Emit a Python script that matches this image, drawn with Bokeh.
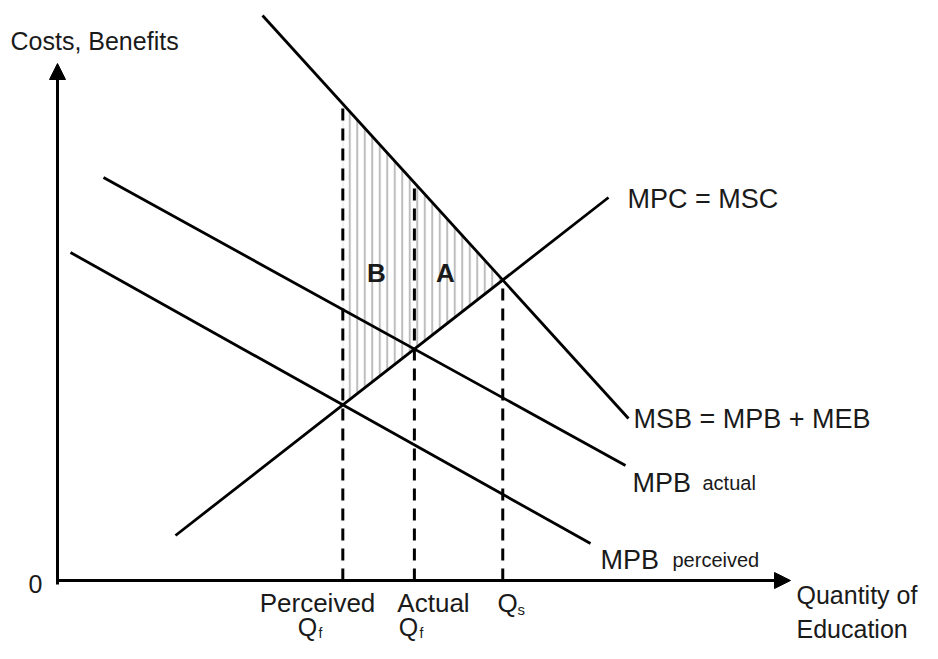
from bokeh.plotting import figure
from bokeh.models import Range1d, Arrow, NormalHead
from bokeh.core.properties import value
from bokeh.embed import file_html
from bokeh.resources import INLINE

# ---- data: curve endpoints (quantity, costs/benefits units) ----
msb_q = [205, 571]
msb_p = [565, 162]
mpc_q = [118, 551]
mpc_p = [45, 383]
mpb_act_q = [46, 568]
mpb_act_p = [403, 115]
mpb_per_q = [13, 533]
mpb_per_p = [328, 37]
axis_len_q = 733
axis_len_p = 517


def line_at(q, p, x):
    s = (p[1] - p[0]) / (q[1] - q[0])
    return p[0] + s * (x - q[0])


def intersect(q1, p1, q2, p2):
    s1 = (p1[1] - p1[0]) / (q1[1] - q1[0])
    s2 = (p2[1] - p2[0]) / (q2[1] - q2[0])
    b1 = p1[0] - s1 * q1[0]
    b2 = p2[0] - s2 * q2[0]
    x = (b2 - b1) / (s1 - s2)
    return x, b1 + s1 * x


q_per, p_per = intersect(mpb_per_q, mpb_per_p, mpc_q, mpc_p)
q_act, p_act = intersect(mpb_act_q, mpb_act_p, mpc_q, mpc_p)
q_s, p_s = intersect(msb_q, msb_p, mpc_q, mpc_p)

FONT = value("Liberation Sans")
INK = "#1a1a1a"

p = figure(width=922, height=643, x_range=Range1d(-57, 865), y_range=Range1d(-63, 580),
           output_backend="svg", toolbar_location=None, min_border=0,
           x_axis_type=None, y_axis_type=None)
p.grid.visible = False
p.outline_line_color = None
p.background_fill_color = "white"

# hatched welfare area
p.patch([q_per, q_s, q_per],
        [line_at(msb_q, msb_p, q_per), p_s, line_at(mpc_q, mpc_p, q_per)],
        fill_color="white", fill_alpha=0, line_color=None,
        hatch_pattern="vertical_line", hatch_color="#bdbdbd",
        hatch_scale=7.5, hatch_weight=2)

# dashed verticals
for qq, top in [(q_per, line_at(msb_q, msb_p, q_per)),
                (q_act, line_at(msb_q, msb_p, q_act)),
                (q_s, p_s)]:
    p.line([qq, qq], [0, top], line_color="black", line_width=3, line_dash="12 8")

# curves
for qs, ps in [(msb_q, msb_p), (mpc_q, mpc_p), (mpb_act_q, mpb_act_p), (mpb_per_q, mpb_per_p)]:
    p.line(qs, ps, line_color="black", line_width=2.8)

# axes
p.add_layout(Arrow(end=NormalHead(size=16, fill_color="black", line_color="black"),
                   x_start=0, y_start=-4, x_end=0, y_end=axis_len_p,
                   line_width=3, line_color="black"))
p.add_layout(Arrow(end=NormalHead(size=16, fill_color="black", line_color="black"),
                   x_start=0, y_start=0, x_end=axis_len_q, y_end=0,
                   line_width=3, line_color="black"))


def txt(x, y, s, size, align="left", baseline="middle", style="normal"):
    p.text(x=[x], y=[y], text=[s], text_font=FONT, text_font_size=f"{size}px",
           text_align=align, text_baseline=baseline, text_color=INK,
           text_font_style=style)


txt(-47, 540, "Costs, Benefits", 25)
txt(-22, -3, "0", 25, align="center")
txt(739, -14, "Quantity of", 25)
txt(739, -48, "Education", 25)
txt(260, -22, "Perceived", 26, align="center")
txt(376, -22, "Actual", 26, align="center")
txt(440, -22, "Q", 26)
txt(460, -29, "s", 15)
txt(250, -46, "Q", 25, align="center")
txt(261, -52, "f", 14)
txt(351, -46, "Q", 25, align="center")
txt(362, -52, "f", 14)
txt(570, 382, "MPC = MSC", 27)
txt(576, 162, "MSB = MPB + MEB", 27)
txt(575, 98, "MPB", 27, baseline="alphabetic")
txt(645, 98, "actual", 20, baseline="alphabetic")
txt(543, 21, "MPB", 27, baseline="alphabetic")
txt(615, 21, "perceived", 20, baseline="alphabetic")
txt(319, 308, "B", 26, align="center", style="bold")
txt(388, 308, "A", 26, align="center", style="bold")

open("out.html", "w").write(file_html(p, INLINE))
